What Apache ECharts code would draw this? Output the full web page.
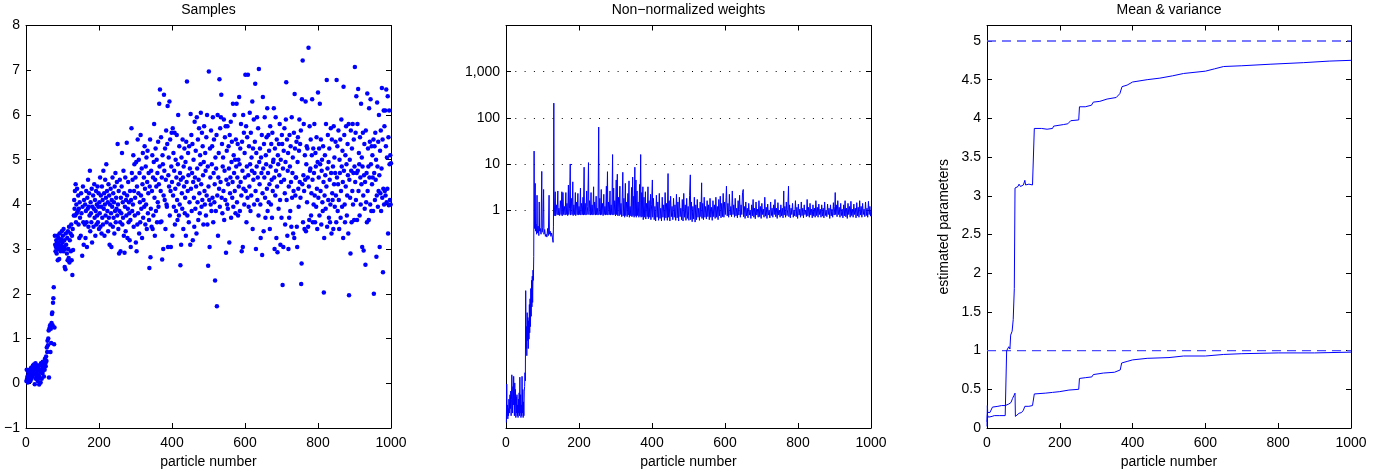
<!DOCTYPE html>
<html>
<head>
<meta charset="utf-8">
<script src="https://cdn.jsdelivr.net/npm/echarts@6/dist/echarts.min.js"></script>
<style>html,body{margin:0;padding:0;background:#fff}#c{width:1390px;height:474px}</style>
</head>
<body>
<div id="c"></div>
<script>
// ---------- DATA ----------
const panelTitles = ['Samples', 'Non\u2212normalized weights', 'Mean & variance'];
const xName = 'particle number';
const yName3 = 'estimated parameters';
const xTicks = [0, 200, 400, 600, 800, 1000];
const weightTicks = [1, 10, 100, 1000];
const meanVarTicks = [0, 0.5, 1, 1.5, 2, 2.5, 3, 3.5, 4, 4.5, 5];
const trueMean = 5;
const trueVar = 1;

const sampleData = [
[1,0.05],[2,0.3],[3,0.1],[4,0.15],[5,0.02],[6,0.25],[7,0.08],[8,0.2],[9,0.12],[10,0.3],
[11,0.18],[12,0.05],[13,0.28],[14,0.35],[15,0.1],[16,0.22],[17,0.3],[18,0.15],[19,0.4],[20,0.25],
[21,0.32],[22,0.42],[23,0.2],[24,-0.02],[25,0.3],[26,0.45],[27,0.1],[28,0.38],[29,0.22],[30,0.15],
[31,0.28],[32,0.05],[33,0.35],[34,0.4],[35,0.18],[36,-0.03],[37,0.3],[38,0.12],[39,0.25],[40,0.02],
[41,0.45],[42,0.3],[43,0.1],[44,0.38],[45,0.22],[46,0.48],[47,0.28],[48,0.35],[49,0.15],[50,0.42],
[51,0.3],[52,0.55],[53,0.45],[54,0.38],[55,0.6],[56,0.5],[57,0.8],[58,0.7],[59,0.95],[60,0.85],
[61,1.0],[62,1.18],[63,0.13],[64,1.2],[65,1.25],[66,1.3],[67,0.7],[68,1.22],[69,0.9],[70,1.35],
[71,1.55],[72,1.58],[73,1.3],[74,1.8],[75,1.9],[76,2.15],[77,0.87],[78,1.25],
[79,3.3],[80,3.1],[81,2.95],[82,3.05],[83,3.2],[84,2.9],[85,3.15],[86,3.3],[87,2.75],[88,3.0],[89,3.25],[90,3.1],
[91,2.78],[92,3.35],[93,3.05],[94,3.18],[95,2.95],[96,3.22],[97,3.08],[98,3.4],[99,3.0],[100,3.15],
[101,3.3],[102,2.95],[103,3.45],[104,3.05],[105,3.2],[106,2.6],[107,3.0],[108,2.55],[109,3.35],[110,3.1],
[112,2.9],[113,3.25],[114,2.75],[115,3.4],[116,3.0],[117,2.8],[118,3.5],[119,2.7],[120,3.2],[122,3.35],
[123,2.95],[124,3.55],[125,2.75],[126,3.3],[127,2.42],[128,3.45],[129,2.98],
[131,3.75],[132,4.1],[133,3.9],[134,4.3],[135,3.75],[136,4.45],[137,3.6],[138,4.0],[139,3.8],[140,4.35],
[142,3.85],[143,4.2],[144,3.55],[145,3.9],[146,3.25],[147,4.05],[148,3.7],[150,3.3],[151,4.25],[152,3.8],
[154,2.85],[155,3.95],[156,4.4],[157,3.6],[158,3.1],[159,4.1],
[161,3.55],[162,4.0],[163,3.25],[164,3.85],[165,4.3],[166,3.6],[167,3.05],[168,4.15],[169,3.9],[170,4.55],
[171,3.5],[172,3.95],[173,4.25],[174,3.75],[175,4.75],[176,3.4],[177,4.05],[178,3.8],[179,3.6],[180,4.35],
[181,3.15],[182,3.95],[184,4.2],[185,3.5],[186,3.9],[187,4.45],[188,3.7],[189,4.1],[190,3.3],[191,3.85],
[192,4.3],[193,3.55],[194,4.0],[195,3.75],[196,4.4],[197,3.6],[198,3.95],[199,4.25],[200,3.45],
[201,4.05],[202,3.8],[203,4.6],[204,3.5],[205,4.2],[206,3.95],[207,3.35],[208,4.4],[209,3.7],[210,4.1],
[211,3.55],[212,4.75],[213,3.9],[214,4.25],[215,3.3],[216,4.0],[217,4.55],[218,3.75],[219,4.15],[220,4.9],
[221,3.6],[222,4.3],[223,3.85],[224,4.05],[225,3.4],[226,4.45],[227,3.7],[228,4.2],[229,3.1],[230,4.0],
[231,3.55],[232,4.35],[233,3.8],[234,3.05],[235,4.1],[236,3.95],[237,4.6],[238,3.5],[239,4.25],[240,3.7],
[241,4.05],[242,3.35],[243,4.4],[244,3.85],[245,4.7],[246,3.6],[247,4.15],[248,3.9],[249,4.5],[250,3.75],
[251,5.35],[252,4.0],[253,3.45],[254,4.3],[255,2.9],[256,3.85],[257,4.55],[258,3.6],[259,2.95],[260,4.15],
[261,3.8],[262,4.4],[263,5.15],[264,3.55],[265,4.05],[266,3.7],[267,4.75],[268,3.3],[269,4.25],[270,2.92],
[271,3.95],[272,4.6],[273,3.4],[274,4.1],[275,3.75],[276,5.38],[277,4.2],[278,3.25],[279,3.9],[280,4.5],
[281,3.6],[282,4.05],[283,3.8],[284,3.2],[285,4.3],[286,3.65],[287,3.05],[288,4.1],[289,5.7],[290,4.7],
[291,3.85],[292,4.55],[293,4.0],[294,5.1],[295,3.5],[296,4.3],[297,4.9],[298,3.75],[299,4.15],[300,4.6],
[301,3.15],[302,4.95],[303,2.95],[304,4.4],[305,3.55],[306,5.45],[307,3.8],[308,4.25],[309,5.0],[310,3.35],
[311,4.7],[312,4.05],[313,3.6],[314,5.55],[315,4.2],[316,3.9],[317,4.8],[318,3.25],[319,4.45],[320,5.15],
[321,3.7],[322,4.1],[323,4.6],[324,3.95],[325,5.3],[326,4.35],[327,3.55],[328,4.85],[329,4.0],[330,5.05],
[331,3.45],[332,4.5],[333,5.2],[334,3.8],[335,4.25],[336,4.7],[337,3.65],[338,2.58],[339,4.4],[340,5.45],
[341,2.82],[342,3.9],[343,4.75],[344,3.5],[345,4.3],[346,5.1],[347,3.45],[348,4.6],[349,3.75],[350,4.95],
[351,5.8],[352,4.15],[353,3.3],[354,4.55],[355,5.25],[356,3.85],[357,4.4],[358,5.0],[359,3.6],[360,4.7],
[361,4.05],[362,5.4],[363,3.95],[364,4.45],[365,6.25],[366,4.85],[367,6.57],[368,3.6],[369,4.3],[370,5.5],
[371,3.62],[372,4.6],[373,2.77],[374,5.1],[375,4.9],[376,3.0],[377,4.2],[378,6.45],[379,4.75],[380,4.1],
[381,5.25],[382,3.45],[383,4.55],[384,5.65],[385,4.0],[386,3.95],[387,5.35],[388,6.2],[389,3.05],[390,4.65],
[391,5.05],[392,4.4],[393,6.3],[394,3.75],[395,5.45],[396,4.3],[397,3.05],[398,4.85],[399,5.6],[400,4.5],
[401,3.3],[402,5.7],[403,4.2],[404,5.15],[405,3.95],[406,4.75],[407,5.6],[408,3.55],[409,4.35],[410,5.0],
[411,3.85],[412,4.6],[413,5.55],[414,4.1],[415,3.65],[416,4.9],[417,6.0],[418,4.45],[419,3.75],[420,5.3],
[421,4.0],[422,4.7],[423,2.64],[424,4.55],[425,3.1],[426,5.05],[427,4.25],[428,3.9],[429,5.45],[430,4.6],
[431,3.45],[432,4.85],[433,4.4],[434,5.25],[435,3.8],[436,4.15],[437,4.95],[438,3.3],[439,5.4],[440,4.5],
[441,6.75],[442,3.75],[443,4.3],[444,5.15],[445,4.65],[446,3.6],[447,5.3],[448,4.05],[449,4.8],[450,3.1],
[451,6.02],[452,4.35],[453,5.55],[454,3.85],[455,4.7],[456,5.35],[457,3.2],[458,4.5],[459,5.0],[460,4.15],
[461,3.5],[462,5.85],[463,4.6],[464,3.9],[465,5.2],[466,4.4],[467,3.35],[468,5.95],[469,4.8],[470,4.05],
[471,5.45],[472,3.65],[473,4.55],[474,5.7],[475,4.25],[476,3.8],[477,5.1],[478,4.9],[479,6.05],[480,4.45],
[481,3.95],[482,5.6],[483,4.1],[484,5.3],[485,4.65],[486,3.55],[487,4.95],[488,5.75],[489,4.3],[490,4.0],
[491,5.15],[492,4.75],[493,3.75],[494,5.5],[495,4.2],[496,6.0],[497,3.55],[498,4.85],[499,2.63],[500,4.4],
[501,6.97],[502,4.1],[503,3.05],[504,5.25],[505,4.6],[506,4.0],[507,5.65],[508,3.85],[509,4.9],[510,5.3],
[511,4.15],[512,5.95],[513,3.6],[514,4.7],[515,5.45],[516,4.05],[517,4.45],[518,2.3],[519,5.05],[520,3.85],
[521,4.8],[522,5.55],[523,1.72],[524,4.2],[525,6.0],[526,3.3],[527,4.6],[528,5.15],[529,4.35],[530,6.8],
[531,3.95],[532,5.7],[533,4.5],[534,5.95],[535,6.45],[536,4.15],[537,5.35],[538,3.8],[539,4.85],[540,5.05],
[541,4.3],[542,5.9],[543,3.65],[544,4.75],[545,5.5],[546,4.1],[547,5.75],[548,2.92],[549,4.55],[550,5.2],
[551,4.0],[552,5.75],[553,3.9],[554,4.45],[555,5.3],[556,4.8],[557,3.15],[558,5.55],[559,4.25],[560,4.6],
[561,5.85],[562,3.7],[563,4.95],[564,5.4],[565,4.15],[566,4.5],[567,6.25],[568,3.95],[569,5.1],[570,4.7],
[571,6.0],[572,4.3],[573,5.0],[574,3.8],[575,5.45],[576,4.85],[577,6.25],[578,4.05],[579,4.6],[580,5.35],
[581,3.75],[582,5.0],[583,4.4],[584,6.4],[585,4.9],[586,3.85],[587,5.25],[588,4.5],[589,5.8],[590,4.2],
[591,2.95],[592,5.4],[593,4.75],[594,3.05],[595,6.0],[596,4.35],[597,5.6],[598,4.0],[599,5.15],[600,4.6],
[601,6.9],[602,4.3],[603,5.75],[604,3.6],[605,4.85],[606,5.5],[607,4.15],[608,6.9],[609,4.65],[610,3.95],
[611,5.3],[612,4.4],[613,6.05],[614,4.9],[615,3.85],[616,5.6],[617,4.2],[618,5.05],[619,4.75],[620,6.3],
[621,3.45],[622,5.25],[623,4.55],[624,5.9],[625,4.0],[626,4.7],[627,5.4],[628,6.7],[629,4.3],[630,3.0],
[631,5.15],[632,4.85],[633,5.95],[634,4.1],[635,4.6],[636,5.7],[637,3.75],[638,7.03],[639,4.95],[640,4.45],
[641,5.25],[642,4.0],[643,3.25],[644,5.05],[645,4.7],[646,5.55],[647,2.87],[648,4.25],[649,6.4],[650,4.8],
[651,3.4],[652,5.35],[653,4.6],[654,5.95],[655,4.15],[656,3.7],[657,5.1],[658,4.9],[659,5.5],[660,4.35],
[661,6.15],[662,3.85],[663,4.7],[664,5.55],[665,4.05],[666,5.2],[667,4.45],[668,3.45],[669,5.75],[670,4.85],
[671,4.0],[672,5.35],[673,4.55],[674,3.7],[675,5.6],[676,4.3],[677,4.95],[678,5.0],[679,6.15],[680,4.6],
[681,3.0],[682,5.25],[683,4.2],[684,5.95],[685,4.75],[686,3.25],[687,5.45],[688,4.4],[689,2.93],[690,5.1],
[691,4.9],[692,3.9],[693,5.35],[694,4.65],[695,5.8],[696,4.1],[697,3.1],[698,5.0],[699,4.5],[700,3.7],
[701,5.55],[702,5.35],[703,2.2],[704,4.8],[705,3.05],[706,5.2],[707,4.55],[708,5.7],[709,4.25],[710,3.55],
[711,4.95],[712,5.9],[713,6.73],[714,4.1],[715,5.45],[716,3.3],[717,4.75],[718,5.15],[719,3.0],[720,4.4],
[721,3.7],[722,5.55],[723,4.85],[724,3.85],[725,5.3],[726,4.5],[727,3.5],[728,5.95],[729,4.15],[730,4.7],
[731,5.05],[732,3.35],[733,4.3],[734,5.6],[735,3.25],[736,6.47],[737,5.25],[738,4.2],[739,4.6],[740,4.6],
[741,5.4],[742,3.5],[743,3.05],[744,4.95],[745,5.5],[746,4.35],[747,3.95],[748,5.2],[749,5.9],[750,4.5],
[751,5.35],[752,4.15],[753,5.65],[754,2.22],[755,2.68],[756,6.35],[757,4.45],[758,7.22],[759,3.6],[760,4.65],
[761,5.8],[762,4.3],[763,3.45],[764,5.1],[765,4.55],[766,6.3],[767,3.4],[768,4.9],[769,5.3],[770,4.05],
[771,5.25],[772,4.6],[773,3.5],[774,7.5],[775,4.4],[776,3.65],[777,5.75],[778,4.75],[779,4.8],[780,5.45],
[781,3.75],[782,4.25],[783,5.1],[784,6.35],[785,4.55],[786,3.6],[787,5.25],[788,4.0],[789,4.7],[790,5.8],
[791,4.2],[792,3.6],[793,5.15],[794,4.85],[795,3.95],[796,5.5],[797,4.35],[798,3.45],[799,4.95],[800,6.5],
[801,4.15],[802,4.6],[803,5.25],[804,3.75],[805,6.25],[806,4.9],[807,4.3],[808,5.45],[809,3.55],[810,4.75],
[811,5.0],[812,4.05],[813,3.85],[814,5.3],[815,4.5],[816,2.03],[817,3.25],[818,4.2],[819,5.1],[820,4.65],
[821,3.9],[822,5.8],[823,4.4],[824,6.78],[825,3.5],[826,4.8],[827,5.55],[828,4.1],[829,4.95],[830,3.7],
[831,5.25],[832,4.55],[833,3.6],[834,4.0],[835,5.7],[836,4.7],[837,3.35],[838,5.45],[839,4.25],[840,4.1],
[841,4.85],[842,3.45],[843,5.75],[844,4.45],[845,5.05],[846,3.95],[847,4.7],[848,5.4],[849,4.2],[850,3.6],
[851,6.78],[852,4.6],[853,5.3],[854,3.85],[855,4.45],[856,5.65],[857,4.1],[858,3.45],[859,5.0],[860,4.7],
[861,5.45],[862,3.7],[863,4.3],[864,5.9],[865,4.85],[866,3.95],[867,5.2],[868,4.5],[869,3.25],[870,6.63],
[871,4.75],[872,5.55],[873,4.0],[874,3.6],[875,5.1],[876,4.4],[877,5.75],[878,4.9],[879,3.75],[880,4.2],
[881,5.35],[882,4.65],[883,3.35],[884,5.8],[885,1.97],[886,4.55],[887,5.0],[888,4.15],[889,2.9],[890,5.65],
[891,4.75],[892,3.6],[893,5.25],[894,4.3],[895,5.8],[896,4.0],[897,4.7],[898,5.45],[899,3.65],[900,4.85],
[901,7.07],[902,4.5],[903,5.6],[904,4.1],[905,6.42],[906,4.7],[907,3.65],[908,5.8],[909,4.75],[910,6.58],
[911,4.3],[912,5.15],[913,4.9],[914,3.75],[915,5.5],[916,4.6],[917,4.0],[918,6.25],[919,4.45],[920,5.05],
[921,3.05],[922,4.85],[923,5.6],[924,4.2],[925,2.97],[926,4.65],[927,5.35],[928,3.9],[929,4.5],[930,2.65],
[931,5.65],[932,4.05],[933,4.7],[934,3.6],[935,6.48],[936,4.3],[937,5.25],[938,4.85],[939,3.65],[940,6.15],
[941,4.6],[942,5.4],[943,4.0],[944,6.35],[945,4.9],[946,3.85],[947,5.3],[948,4.45],[949,5.1],[950,4.6],
[951,3.85],[952,5.45],[953,2.0],[954,4.7],[955,5.3],[956,4.1],[957,5.6],[958,4.55],[959,5.0],[960,2.83],
[961,4.2],[962,6.28],[963,4.85],[964,3.95],[965,5.4],[966,4.3],[967,6.0],[968,4.65],[969,3.05],[970,5.2],
[971,4.25],[972,5.65],[973,3.85],[974,4.8],[975,6.6],[976,4.15],[977,5.45],[978,2.48],[979,4.35],[980,6.1],
[981,4.0],[982,5.75],[983,4.3],[984,6.1],[985,4.2],[986,5.3],[987,6.57],[988,4.05],[989,5.05],[990,4.35],
[991,6.42],[992,3.35],[993,5.5],[994,3.98],[995,6.1],[996,4.9],[997,4.1],[998,5.1],[999,4.0],[1000,4.92]
];

const weightData = [
[1,2.5e-5],[2,1.7e-4],[3,3.5e-5],[4,6e-5],[5,3e-5],[6,5e-5],[7,3.5e-5],[8,8e-5],[9,4e-5],[10,7e-5],
[11,1e-4],[12,5e-5],[13,1.2e-4],[14,3.5e-5],[15,8e-5],[16,2.7e-4],[17,9e-5],[18,4e-5],[19,1.5e-4],[20,6e-5],
[21,2.5e-4],[22,1e-4],[23,3.5e-5],[24,1.8e-4],[25,6e-5],[26,1.3e-4],[27,3.2e-5],[28,9e-5],[29,4e-5],[30,1e-4],
[31,3.5e-5],[32,6e-5],[33,3.2e-5],[34,8e-5],[35,4e-5],[36,1.1e-4],[37,3.5e-5],[38,2.4e-4],[39,4e-5],[40,1e-4],
[41,3.2e-5],[42,6e-5],[43,3.5e-5],[44,2.5e-4],[45,4e-5],[46,1.3e-4],[47,3.2e-5],[48,7e-5],[49,3.5e-5],[50,1.2e-4],
[51,1.5e-4],[52,3e-4],[53,2e-4],[54,0.018],[55,1e-3],[56,3e-3],[57,7e-4],[58,0.006],[59,1.5e-3],[60,0.0047],
[61,1e-3],[62,0.004],[63,1.6e-3],[64,0.009],[65,2.2e-3],[66,0.012],[67,3e-3],[68,0.02],[69,5e-3],[70,0.03],
[71,8e-3],[72,0.037],[73,0.01],[74,0.05],[75,0.03],[76,0.1],[77,19],[78,0.4],
[80,3.8],[81,0.35],[82,0.5],[84,0.3],[85,2.1],[86,0.32],[88,0.45],[90,0.28],[91,1.5],[92,0.35],[94,0.4],[96,0.3],
[98,6.9],[99,0.33],[101,0.42],[103,2.8],[104,0.3],[106,0.38],[108,0.27],[110,0.3],[112,0.26],[114,0.4],[116,0.28],
[118,2.1],[119,0.3],[121,0.35],[123,0.27],[125,0.32],[127,0.26],[129,0.2],[130,0.45],[131,208],[132,0.75],
[133,0.8],[135,2.5],[136,0.75],[138,1.3],[140,0.8],[142,2.6],[143,0.78],[145,1.1],[147,0.76],[149,1.6],[151,0.8],
[153,2.5],[154,0.75],[156,2.4],[158,0.8],[160,1.2],[162,0.78],[164,2.4],[165,0.8],[167,1.4],[169,0.76],[171,3.5],
[172,0.8],[174,1.1],[176,10],[177,0.78],[179,1.8],[181,0.8],[183,4.1],[184,0.76],[186,1.3],[188,0.8],[190,2.4],
[191,0.76],[193,1.5],[195,0.8],[197,2.3],[198,0.78],[200,1.2],[202,0.8],[204,3.0],[205,0.78],[207,1.4],[209,0.8],
[211,1.9],[212,0.78],[214,8.5],[215,0.8],[217,1.4],[219,0.78],[221,2.6],[222,0.8],[224,1.2],[226,10.7],[227,0.8],
[229,1.6],[231,0.78],[233,2.4],[234,0.8],[236,1.3],[238,0.78],[240,3.2],[241,0.8],[243,1.5],[245,0.78],[247,2.0],
[248,0.8],[250,1.1],[252,0.78],[254,63],[255,0.8],[257,1.8],[259,0.78],[261,2.8],[262,0.8],[264,1.4],[266,0.76],
[268,2.2],[269,0.8],[271,1.2],[273,0.78],[275,3.3],[276,0.8],[278,6.8],[279,0.78],[281,1.5],[283,0.8],[285,2.6],
[286,0.78],[288,1.3],[290,0.8],[292,16],[293,0.78],[295,3.0],[296,0.8],[298,1.6],[300,0.75],[302,4.5],[303,0.8],
[305,6],[306,0.76],[308,1.9],[310,0.75],[312,3.3],[313,0.8],[315,1.4],[317,0.72],[319,2.6],[320,6.6],[321,0.75],
[323,1.8],[325,0.7],[327,3.8],[328,0.76],[330,1.5],[332,0.72],[334,2.3],[335,0.78],[337,4.3],[338,0.7],[340,1.2],
[342,0.75],[344,3.1],[345,0.72],[347,5.2],[348,0.76],[350,2.0],[351,0.7],[353,8.5],[354,0.75],[356,4.5],[357,0.7],
[359,2.6],[360,0.76],[362,1.5],[364,0.7],[366,3.6],[367,0.75],[369,16],[370,0.7],[372,2.4],[373,0.72],[375,3.2],
[376,0.62],[378,1.9],[380,0.7],[382,2.5],[383,0.64],[385,1.4],[387,0.72],[389,3.2],[390,0.65],[392,1.6],[394,0.7],
[396,2.2],[397,0.62],[399,1.3],[401,4.5],[402,0.7],
[404,1.8],[406,0.62],[408,1.2],[410,0.58],[412,2.1],[414,0.7],[416,1.5],[418,0.6],[420,2.3],[422,0.66],[424,1.1],
[426,0.58],[428,1.9],[430,0.7],[432,1.3],[434,0.6],[436,2.4],[438,0.68],[440,1.4],[442,0.6],[444,6.2],[445,0.7],
[447,1.6],[449,0.58],[451,2.0],[453,0.72],[455,1.2],[457,0.62],[459,1.8],[461,0.7],[463,1.3],[465,0.6],[467,2.2],
[469,0.68],[471,1.5],[473,0.58],[475,1.9],[477,0.72],[479,1.1],[481,0.62],[483,1.7],[485,0.58],[487,2.3],[489,0.7],
[491,1.3],[493,0.6],[495,1.8],[497,0.66],[499,1.2],[501,0.6],[503,2.1],[505,5.8],[506,0.62],[508,1.5],[510,0.56],
[512,1.2],[514,0.64],[516,1.9],[518,0.55],[520,1.3],[522,0.62],[524,1.7],[526,0.7],[528,1.1],[530,0.6],[532,1.5],
[534,0.72],[536,3.9],[537,0.66],[539,1.4],[541,0.62],[543,1.9],[545,0.7],[547,1.2],[549,0.64],[551,1.6],[553,0.72],
[555,1.3],[557,0.62],[559,1.8],[561,0.7],[563,1.15],[565,0.6],[567,1.6],[569,0.72],[571,1.3],[573,0.66],[575,1.9],
[577,0.7],[579,1.2],[581,0.62],[583,1.7],[585,0.75],[587,2.0],[589,0.68],[591,1.4],[593,0.72],[595,2.3],[597,0.7],
[599,1.5],[601,0.8],[603,1.9],[604,3.3],[606,0.75],
[608,1.4],[610,0.7],[612,2.2],[614,0.78],[616,1.2],[618,0.72],[620,2.6],[622,0.8],[624,1.3],[626,0.7],[628,1.8],
[630,0.75],[632,1.1],[634,0.68],[636,1.6],[638,0.78],[640,2.1],[642,0.7],[644,1.3],[646,0.8],[648,2.4],[650,2.8],
[651,0.72],[653,1.2],[655,0.66],[657,1.5],[659,0.75],[661,1.1],[663,0.68],[665,1.4],[667,0.78],[669,1.0],[671,0.66],
[673,1.3],[675,0.75],[677,1.7],[679,0.7],[681,1.1],[683,0.65],[685,1.5],[687,0.78],[689,1.05],[691,0.7],[693,1.6],
[695,0.72],[697,1.2],[699,0.66],[701,1.4],[703,0.8],[705,1.05],[707,0.7],[709,1.9],[711,0.74],[713,1.15],[715,0.66],
[717,1.35],[719,0.78],[721,1.0],[723,0.68],[725,1.5],[727,0.76],[729,1.1],[731,0.7],[733,1.3],[735,0.8],[737,1.7],
[739,0.72],[741,1.1],[743,0.66],[745,1.45],[747,0.78],[749,1.0],[751,0.7],[753,1.3],[755,0.75],[757,1.1],[759,0.68],
[761,2.6],[762,0.78],[764,1.2],[766,0.7],[768,1.5],[770,0.76],[772,1.05],[774,3.3],[775,0.72],[777,1.3],[779,0.68],
[781,1.1],[783,0.8],[785,1.4],[787,0.7],[789,1.0],[791,0.75],[793,1.6],[795,0.72],[797,1.15],[799,0.66],[801,1.35],
[803,0.78],[805,1.05],[807,0.7],[809,1.5],[811,0.76],[813,1.1],[815,0.68],[817,1.3],[819,0.8],[821,1.0],[823,0.72],
[825,1.7],[827,0.75],[829,1.15],[831,0.7],[833,1.4],[835,0.78],[837,1.05],[839,0.68],[841,1.3],[843,0.74],[845,1.1],
[847,0.7],[849,1.6],[851,0.76],[853,1.15],[855,0.7],[857,1.35],[859,0.8],[861,1.05],[863,0.7],[865,1.3],[867,0.74],
[869,1.1],[871,0.68],[873,1.5],[875,0.76],[877,1.0],[879,0.72],[881,1.35],[883,0.8],[885,1.1],[887,0.66],[889,1.3],
[891,0.75],[893,1.05],[895,0.7],[897,1.45],[899,0.78],[901,1.2],[902,2.4],[903,0.8],[905,1.3],[907,0.72],[909,1.6],
[911,0.8],[913,1.15],[915,0.7],[917,1.4],[919,0.76],[921,1.05],[923,0.68],[925,1.3],[927,0.75],[929,1.6],[931,0.72],
[933,1.1],[935,0.66],[937,1.4],[939,0.8],[941,1.2],[943,0.7],[945,1.55],[947,0.76],[949,1.05],[951,0.7],[953,1.35],
[955,0.8],[957,1.1],[959,0.68],[961,1.45],[963,0.75],[965,1.15],[967,0.7],[969,1.6],[971,0.78],[973,1.2],[975,0.7],
[977,1.4],[979,0.8],[981,1.05],[983,0.72],[985,1.5],[987,0.76],[989,1.1],[991,0.7],[993,1.55],[995,0.8],[997,1.2],
[999,0.74],[1000,1.0]
];

const meanData = [
[0,0.08],[1,0.17],[4,0.14],[8,0.13],[14,0.15],[20,0.16],[35,0.16],[50,0.16],[53,0.17],[54,1.0],
[57,1.0],[60,1.05],[63,1.02],[65,1.2],[69,1.25],[72,1.4],[75,1.8],[77,3.1],[85,3.12],[88,3.15],
[92,3.12],[100,3.14],[104,3.2],[106,3.14],[115,3.15],[125,3.14],[128,3.15],[130,3.87],[150,3.87],[165,3.86],
[180,3.87],[183,3.9],[210,3.92],[222,3.93],[230,3.97],[252,3.98],[254,4.15],[270,4.15],[287,4.17],[292,4.21],
[310,4.22],[330,4.25],[355,4.27],[365,4.32],[369,4.33],[371,4.41],[385,4.43],[400,4.47],[440,4.5],[475,4.52],
[510,4.55],[540,4.58],[600,4.61],[625,4.64],[650,4.67],[700,4.68],[780,4.7],[870,4.72],[940,4.74],[1000,4.75]
];

const varData = [
[0,0.02],[1,0.29],[2,0.2],[8,0.2],[12,0.21],[15,0.27],[20,0.29],[30,0.28],[40,0.29],[50,0.29],
[60,0.31],[66,0.33],[70,0.38],[74,0.42],[77,0.45],[78,0.15],[82,0.16],[88,0.19],[95,0.2],[100,0.23],
[104,0.28],[115,0.28],[125,0.29],[128,0.29],[130,0.44],[160,0.45],[180,0.46],[200,0.47],[225,0.49],[252,0.5],
[254,0.64],[270,0.65],[288,0.66],[292,0.69],[320,0.71],[350,0.72],[366,0.75],[370,0.84],[385,0.86],[400,0.88],
[440,0.9],[500,0.91],[540,0.93],[600,0.93],[650,0.95],[700,0.96],[800,0.97],[900,0.97],[1000,0.98]
];

// ---------- CHART ----------
const FONT = 'Liberation Sans, Arial, Helvetica, sans-serif';
const FS = 14;
const BLUE = '#0000ff';
const DASH_BLUE = '#4d4dff';
const chart = echarts.init(document.getElementById('c'), null, {renderer: 'canvas'});

const gridDefs = [
  {left: 26, top: 25.5, width: 365, height: 403.5},
  {left: 506, top: 25.5, width: 365, height: 403.5},
  {left: 987, top: 25.5, width: 364, height: 403.5}
];
const centers = gridDefs.map(g => g.left + g.width / 2);

function minusFmt(v) { return String(v).replace('-', '\u2212'); }

function baseAxis(extra, showLabel) {
  return Object.assign({
    axisLine: {show: true, onZero: false, lineStyle: {color: '#000', width: 1}},
    axisTick: {show: true, inside: true, length: 5, lineStyle: {color: '#000', width: 1}},
    axisLabel: {show: showLabel, color: '#000', fontSize: FS, fontFamily: FONT, margin: 8},
    splitLine: {show: false}
  }, extra);
}

const xAxes = [];
const yAxes = [];
for (let i = 0; i < 3; i++) {
  const xa = {type: 'value', gridIndex: i, min: 0, max: 1000, interval: 200};
  const bottom = baseAxis(Object.assign({}, xa, {
    position: 'bottom', name: xName, nameLocation: 'middle', nameGap: 27,
    nameTextStyle: {color: '#000', fontSize: FS, fontFamily: FONT}
  }), true);
  bottom.axisLabel.formatter = v => String(v);
  xAxes.push(bottom);
  xAxes.push(baseAxis(Object.assign({}, xa, {position: 'top'}), false));
}

// panel 1
const y1 = {type: 'value', gridIndex: 0, min: -1, max: 8, interval: 1};
yAxes.push(baseAxis(Object.assign({}, y1, {position: 'left'}), true));
yAxes[0].axisLabel.formatter = minusFmt;
yAxes[0].axisLabel.margin = 6;
yAxes.push(baseAxis(Object.assign({}, y1, {position: 'right'}), false));

// panel 2 (log)
const y2 = {type: 'log', logBase: 10, gridIndex: 1, min: 1.9e-5, max: 1e4};
const y2left = baseAxis(Object.assign({}, y2, {position: 'left'}), true);
y2left.axisLabel.customValues = weightTicks;
y2left.axisLabel.formatter = v => Number(v).toLocaleString('en-US');
y2left.axisLabel.margin = 6;
y2left.axisTick.customValues = weightTicks;
y2left.splitLine = {show: true, lineStyle: {color: '#000', width: 1, type: [1, 8.3]}};
yAxes.push(y2left);
const y2right = baseAxis(Object.assign({}, y2, {position: 'right'}), false);
y2right.axisTick.customValues = weightTicks;
yAxes.push(y2right);

// panel 3
const y3 = {type: 'value', gridIndex: 2, min: 0, max: 5.2};
const y3left = baseAxis(Object.assign({}, y3, {
  position: 'left', name: yName3, nameLocation: 'middle', nameGap: 36, nameRotate: 90,
  nameTextStyle: {color: '#000', fontSize: FS, fontFamily: FONT}
}), true);
y3left.axisLabel.customValues = meanVarTicks;
y3left.axisLabel.margin = 6;
y3left.axisTick.customValues = meanVarTicks;
yAxes.push(y3left);
const y3right = baseAxis(Object.assign({}, y3, {position: 'right'}), false);
y3right.axisTick.customValues = meanVarTicks;
yAxes.push(y3right);

function refLine(v) {
  return {
    type: 'line', xAxisIndex: 4, yAxisIndex: 4, data: [[0, v], [1000, v]],
    showSymbol: false, symbol: 'none', silent: true,
    lineStyle: {color: DASH_BLUE, width: 1.3, type: [9, 6]}
  };
}

const option = {
  animation: false,
  backgroundColor: '#fff',
  title: panelTitles.map((t, i) => ({
    text: t, left: centers[i], top: 3, textAlign: 'center', padding: 0,
    textStyle: {fontSize: FS, fontWeight: 'normal', color: '#000', fontFamily: FONT}
  })),
  grid: gridDefs,
  xAxis: xAxes,
  yAxis: yAxes,
  series: [
    {
      type: 'scatter', xAxisIndex: 0, yAxisIndex: 0, data: sampleData,
      symbol: 'circle', symbolSize: 4.5, itemStyle: {color: BLUE, opacity: 1}, silent: true
    },
    {
      type: 'line', xAxisIndex: 2, yAxisIndex: 2, data: weightData,
      showSymbol: false, symbol: 'none', lineStyle: {color: BLUE, width: 1}, silent: true
    },
    refLine(trueMean),
    refLine(trueVar),
    {
      type: 'line', xAxisIndex: 4, yAxisIndex: 4, data: meanData,
      showSymbol: false, symbol: 'none', lineStyle: {color: BLUE, width: 1}, silent: true
    },
    {
      type: 'line', xAxisIndex: 4, yAxisIndex: 4, data: varData,
      showSymbol: false, symbol: 'none', lineStyle: {color: BLUE, width: 1}, silent: true
    }
  ]
};
chart.setOption(option);
</script>
</body>
</html>
